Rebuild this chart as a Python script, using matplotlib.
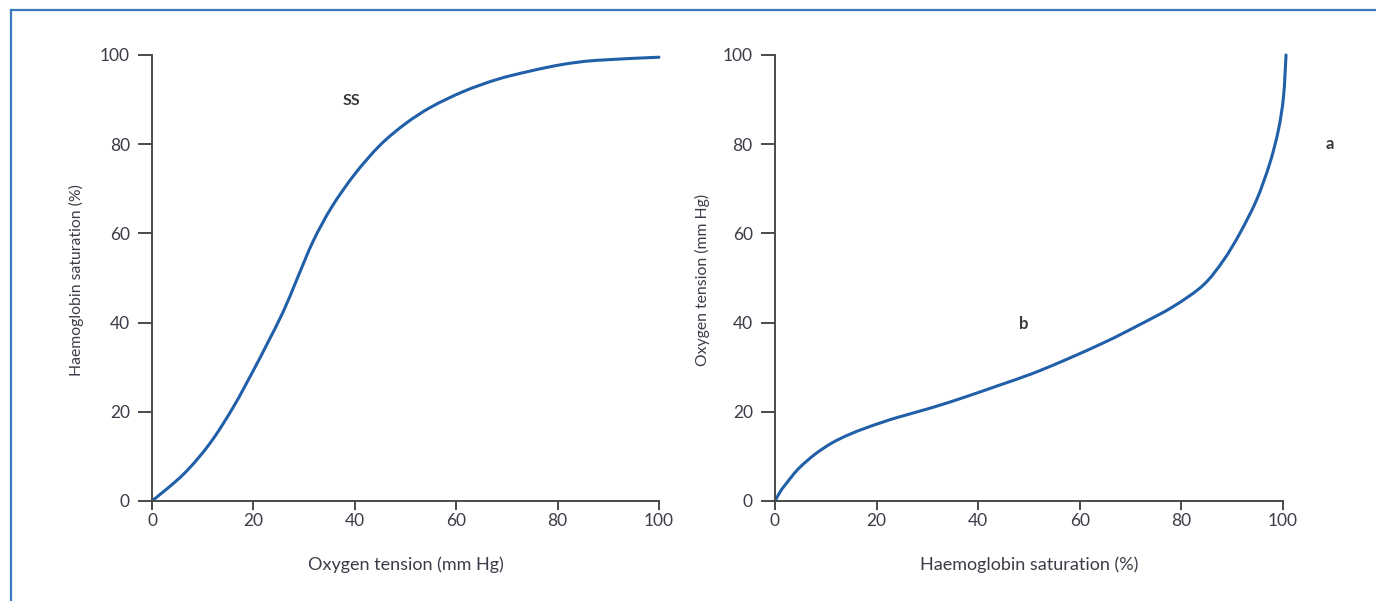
import matplotlib
matplotlib.use('Agg')
import matplotlib.pyplot as plt
from matplotlib.lines import Line2D
from matplotlib.path import Path
from matplotlib.patches import PathPatch

# left panel: oxygen dissociation curve (SS)
tension = [0, 6.2, 11.4, 16.0, 20.0, 22.6, 25.9, 28.5, 31.8, 35.5, 40.0, 45.0,
           50.0, 55.0, 61.4, 68.0, 74.6, 81.1, 87.7, 100]
saturation = [0, 6.0, 12.9, 21.0, 29.3, 35.0, 42.5, 49.5, 58.3, 66.0, 73.3, 79.8,
              84.6, 88.3, 91.8, 94.5, 96.4, 97.9, 98.8, 99.5]

# right panel: inverse curve
sat_r = [0, 1.0, 2.0, 4.6, 7.9, 11.2, 14.4, 17.7, 21.0, 24.3, 30.8, 37.4, 44.0,
         50.5, 57.1, 65.3, 71.9, 78.4, 84.3, 88.3, 91.5, 94.8, 97.4, 99.1, 100.1,
         100.6]
ten_r = [0, 2.0, 3.6, 7.2, 10.5, 13.0, 14.8, 16.3, 17.6, 18.8, 20.9, 23.3, 25.9,
         28.5, 31.6, 35.8, 39.6, 43.6, 48.4, 54.0, 60.0, 67.5, 75.7, 83.2, 90.6,
         100]

ticks = [0, 20, 40, 60, 80, 100]

plt.rcParams['font.family'] = ['Lato', 'DejaVu Sans']

fig = plt.figure(figsize=(13.76, 6.01), dpi=100)
txt_col = '#3c3c48'
line_col = '#2160a8'
spine_col = '#4a4a4a'


def smooth_path(xs, ys):
    # catmull-rom through the points, as cubic bezier segments
    pts = list(zip(xs, ys))
    n = len(pts)
    verts = [pts[0]]
    codes = [Path.MOVETO]
    for i in range(n - 1):
        p0 = pts[max(i - 1, 0)]
        p1 = pts[i]
        p2 = pts[i + 1]
        p3 = pts[min(i + 2, n - 1)]
        c1 = (p1[0] + (p2[0] - p0[0]) / 6, p1[1] + (p2[1] - p0[1]) / 6)
        c2 = (p2[0] - (p3[0] - p1[0]) / 6, p2[1] - (p3[1] - p1[1]) / 6)
        verts += [c1, c2, p2]
        codes += [Path.CURVE4] * 3
    return Path(verts, codes)


def style(ax, xlabel, ylabel, ylab_x):
    ax.set_xlim(0, 100)
    ax.set_ylim(0, 100)
    ax.set_xticks(ticks)
    ax.set_yticks(ticks)
    for s in ['top', 'right']:
        ax.spines[s].set_visible(False)
    for s in ['left', 'bottom']:
        ax.spines[s].set_color(spine_col)
        ax.spines[s].set_linewidth(1.4)
    ax.tick_params(axis='y', length=10, width=1.4, color=spine_col, pad=6,
                   labelsize=12.5, labelcolor=txt_col)
    ax.tick_params(axis='x', length=6.5, width=1.4, color=spine_col, pad=2,
                   labelsize=12.5, labelcolor=txt_col)
    ax.set_xlabel(xlabel, fontsize=13, color=txt_col, va='center')
    ax.set_ylabel(ylabel, fontsize=11.3, color=txt_col, va='center')
    ax.xaxis.set_label_coords(0.5, -0.1435)
    ax.yaxis.set_label_coords(ylab_x, 0.495)


ax1 = fig.add_axes([0.1105, 0.1664, 0.3684, 0.7421])
ax1.add_patch(PathPatch(smooth_path(tension, saturation), fill=False,
                        edgecolor=line_col, lw=2.2, clip_on=False,
                        capstyle='round'))
ax1.text(39.4, 89.7, 'SS', fontsize=11.5, fontweight='bold', color='#3a3a3a',
         ha='center', va='center')
style(ax1, 'Oxygen tension (mm Hg)', 'Haemoglobin saturation (%)', -0.15)

ax2 = fig.add_axes([0.5632, 0.1664, 0.3692, 0.7421])
ax2.add_patch(PathPatch(smooth_path(sat_r, ten_r), fill=False,
                        edgecolor=line_col, lw=2.2, clip_on=False,
                        capstyle='round'))
ax2.text(49, 39.7, 'b', fontsize=12, fontweight='bold', color='#3a3a3a',
         ha='center', va='center')
ax2.text(109.3, 80, 'a', fontsize=12, fontweight='bold', color='#3a3a3a',
         ha='center', va='center', clip_on=False)
style(ax2, 'Haemoglobin saturation (%)', 'Oxygen tension (mm Hg)', -0.142)

# blue frame (top and left edges visible)
fig.add_artist(Line2D([11 / 1376, 1.01], [1 - 10 / 601, 1 - 10 / 601],
                      color='#3a78c0', lw=1.6, transform=fig.transFigure))
fig.add_artist(Line2D([11 / 1376, 11 / 1376], [1 - 10 / 601, -0.01],
                      color='#3a78c0', lw=1.6, transform=fig.transFigure))

fig.savefig('out.png', dpi=100)
